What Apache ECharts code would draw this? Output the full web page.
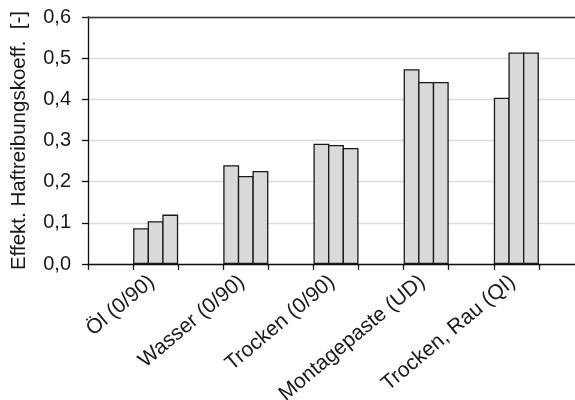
<!DOCTYPE html>
<html>
<head>
<meta charset="utf-8">
<script src="https://cdn.jsdelivr.net/npm/echarts@6/dist/echarts.min.js"></script>
<style>
  html, body { margin: 0; padding: 0; background: #fff; }
  #chart { width: 575px; height: 400px; }
</style>
</head>
<body>
<div id="chart"></div>
<script>
// Gruppen (Schmierzustand / Laminat)
var gruppen = ['Öl (0/90)', 'Wasser (0/90)', 'Trocken (0/90)', 'Montagepaste (UD)', 'Trocken, Rau (QI)']
// drei Versuche je Gruppe
var versuch1 = [0.087, 0.240, 0.292, 0.473, 0.404]
var versuch2 = [0.104, 0.214, 0.289, 0.442, 0.514]
var versuch3 = [0.120, 0.226, 0.282, 0.442, 0.514]
var yTicks = [0, 0.1, 0.2, 0.3, 0.4, 0.5, 0.6]

// Achse: jede Gruppe steht im zweiten Feld eines Doppelfeldes, davor ein leeres Feld
var kategorien = ['']
gruppen.forEach(function (g) { kategorien.push(g, '') })

function spreizen(werte) {
    var out = [null]
    werte.forEach(function (v) { out.push(v, null) })
    return out
}

var chart = echarts.init(document.getElementById('chart'))
var fontFam = '"Liberation Sans", Arial, sans-serif'
var balken = {
    color: '#d9d9d9',
    borderColor: '#1a1a1a',
    borderWidth: 1.3
}

chart.setOption({
    animation: false,
    grid: {
        left: 88,
        top: 17,
        bottom: 136,
        right: -9,
        outerBoundsMode: 'none'
    },
    xAxis: [
        {
            type: 'category',
            data: kategorien,
            boundaryGap: true,
            axisLine: { lineStyle: { color: '#111', width: 1.3 } },
            axisTick: { show: true, interval: 0, length: 6, lineStyle: { color: '#111', width: 1.3 } },
            axisLabel: {
                interval: 0,
                rotate: 40,
                margin: 12,
                padding: [20, 5, 0, 0],
                color: '#1a1a1a',
                fontSize: 21,
                fontFamily: fontFam
            }
        },
        {
            // obere Rahmenlinie bei 0,6
            type: 'category',
            position: 'top',
            data: kategorien,
            axisLine: { show: true, lineStyle: { color: '#333', width: 1.3 } },
            axisTick: { show: false },
            axisLabel: { show: false }
        }
    ],
    yAxis: {
        type: 'value',
        min: yTicks[0],
        max: yTicks[yTicks.length - 1],
        interval: 0.1,
        name: 'Effekt. Haftreibungskoeff.  [-]',
        nameLocation: 'middle',
        nameGap: 58,
        nameTextStyle: { color: '#1a1a1a', fontSize: 20.5, fontFamily: fontFam },
        axisLine: { show: true, lineStyle: { color: '#111', width: 1.3 } },
        axisTick: { show: true, length: 6, lineStyle: { color: '#111', width: 1.3 } },
        axisLabel: {
            margin: 17,
            color: '#1a1a1a',
            fontSize: 20,
            fontFamily: fontFam,
            formatter: function (v) { return v.toFixed(1).replace('.', ',') }
        },
        splitLine: { show: true, lineStyle: { color: '#dcdcdc', width: 1.3 } }
    },
    series: [
        { type: 'bar', data: spreizen(versuch1), barGap: '-8%', barCategoryGap: '0%', itemStyle: balken },
        { type: 'bar', data: spreizen(versuch2), barGap: '-8%', barCategoryGap: '0%', itemStyle: balken },
        { type: 'bar', data: spreizen(versuch3), barGap: '-8%', barCategoryGap: '0%', itemStyle: balken }
    ]
})
</script>
</body>
</html>
